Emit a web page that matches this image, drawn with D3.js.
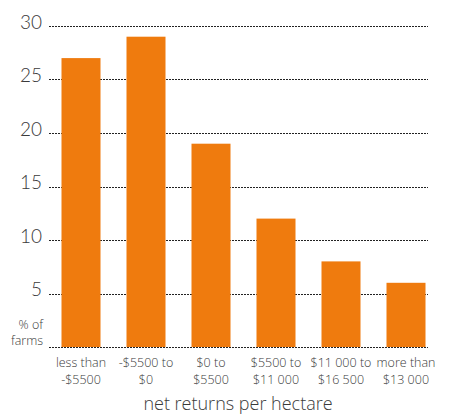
<!DOCTYPE html>
<html><head><meta charset="utf-8">
<script src="https://cdn.jsdelivr.net/npm/d3@7"></script>
<style>body{margin:0;background:#fff}svg{display:block}</style>
</head><body>
<script>
const categories = [["less than","-$5500"],["-$5500 to","$0"],["$0 to","$5500"],["$5500 to","$11 000"],["$11 000 to","$16 500"],["more than","$13 000"]];
const values = [27, 29, 19, 12, 8, 6];
const yTicks = [5, 10, 15, 20, 25, 30];

const W = 449, H = 415;
const svg = d3.select("body").append("svg").attr("width", W).attr("height", H);
const font = "'Open Sans', sans-serif";
const txt = "#3a3a3a";

const x = d3.scaleBand().domain(d3.range(values.length)).range([48.5, 438.5]).paddingInner(0.4).paddingOuter(0.2);
const y = d3.scaleLinear().domain([0, 30]).range([347, 26]);

// gridlines
svg.append("g").selectAll("line").data([0].concat(yTicks)).join("line")
  .attr("x1", 49).attr("x2", 428)
  .attr("y1", d => Math.round(y(d)) + 0.5).attr("y2", d => Math.round(y(d)) + 0.5)
  .attr("stroke", "#222").attr("stroke-width", 1).attr("stroke-dasharray", "2,1");

// tick labels
svg.append("g").selectAll("text").data(yTicks).join("text")
  .attr("x", 42).attr("y", d => y(d) + 2.5)
  .attr("text-anchor", "end").attr("font-family", "Lato, 'Open Sans', sans-serif").attr("font-size", 19).attr("font-weight", 300)
  .attr("fill", txt).text(d => d);

svg.append("text").attr("x", 43).attr("y", 329).attr("text-anchor", "end")
  .attr("font-family", font).attr("font-size", 12.5).attr("font-weight", 300).attr("fill", txt).text("% of");
svg.append("text").attr("x", 43).attr("y", 345).attr("text-anchor", "end")
  .attr("font-family", font).attr("font-size", 12.5).attr("font-weight", 300).attr("fill", txt).text("farms");

// bars
svg.append("g").selectAll("rect").data(values).join("rect")
  .attr("x", (d, i) => x(i)).attr("width", x.bandwidth())
  .attr("y", d => y(d)).attr("height", d => y(0) - y(d))
  .attr("fill", "#EF7B0E");

// category labels (one text element per line)
const lines = [];
categories.forEach((c, i) => c.forEach((line, j) => lines.push({i, j, line})));
svg.append("g").selectAll("text").data(lines).join("text")
  .attr("x", d => x(d.i) + x.bandwidth() / 2).attr("y", d => 367 + d.j * 17)
  .attr("text-anchor", "middle").attr("font-family", font).attr("font-size", 12.5).attr("font-weight", 300)
  .attr("fill", txt).text(d => d.line);

svg.append("text").attr("x", 238).attr("y", 410).attr("text-anchor", "middle")
  .attr("font-family", font).attr("font-size", 18).attr("font-weight", 300).attr("fill", txt).text("net returns per hectare");
</script>
</body></html>
